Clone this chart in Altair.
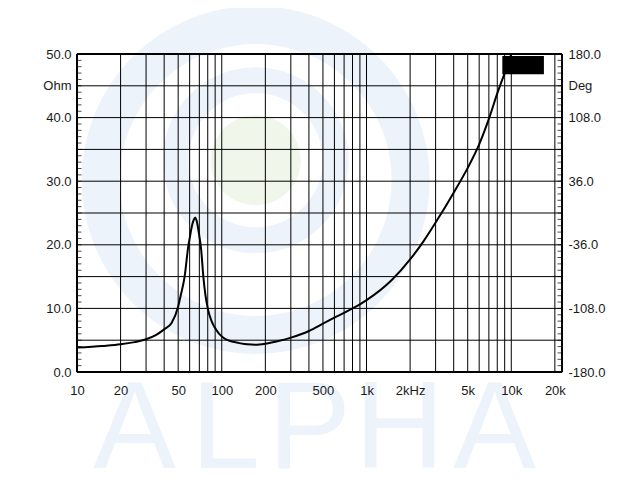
import altair as alt
import pandas as pd

# ---- impedance curve ----
freq = [10, 15, 20, 25, 30, 35, 40, 45, 50, 52, 55.4, 58.9, 60, 62, 64, 65.6, 67, 70, 72, 74.6,
        77, 80, 85, 90, 95, 100, 110, 120, 135, 150, 170, 200, 250, 300, 400, 500, 600, 700,
        800, 900, 1000, 1500, 2000, 2500, 3000, 4000, 5000, 6000, 7000, 8000, 9000, 10000]
ohm = [3.85, 4.1, 4.35, 4.7, 5.15, 5.8, 6.7, 7.7, 10.3, 12.0, 15.0, 20.0, 21.0, 22.8, 23.9, 24.3,
       23.8, 21.4, 19.3, 15.0, 12.2, 10.0, 8.0, 6.9, 6.1, 5.6, 5.0, 4.75, 4.5, 4.35, 4.3, 4.45,
       4.9, 5.4, 6.45, 7.6, 8.55, 9.3, 10.0, 10.65, 11.3, 14.5, 17.7, 20.7, 23.5, 28.2, 32.1,
       35.8, 39.8, 43.8, 47.0, 50.0]

# ---- axes ----
x_domain = [10, 22400]
y_domain = [0, 50]
x_tick_values = [10, 20, 50, 100, 200, 500, 1000, 2000, 5000, 10000, 20000]
x_tick_labels = ["10", "20", "50", "100", "200", "500", "1k", "2kHz", "5k", "10k", "20k"]
x_grid = [20, 30, 40, 50, 60, 70, 80, 90, 100, 200, 300, 400, 500, 600, 700, 800, 900,
          1000, 2000, 3000, 4000, 5000, 6000, 7000, 8000, 9000, 10000, 20000]
y_grid = [5, 10, 15, 20, 25, 30, 35, 40, 45]
y_label_values = [0, 10, 20, 30, 40, 45, 50]
y_minor = list(range(0, 51))
border_x = [10, 22400]
border_y = [0, 50]

# legend-like black box (top right)
box_f1 = [8670]
box_f2 = [16800]
box_o1 = [46.8]
box_o2 = [49.7]

# watermark
wm_letters = ["A", "L", "P", "H", "A"]
wm_freq = [25, 106, 405, 1690, 7670]
wm_ohm = [-15.1, -15.1, -15.1, -15.1, -15.1]
logo_freq = [171.4]
logo_outer_ohm = [30.2]
logo_inner_ohm = [33.3]

xs = alt.Scale(type="log", domain=x_domain, nice=False)
ys = alt.Scale(domain=y_domain, nice=False, zero=False)

curve_df = pd.DataFrame({"f": freq, "ohm": ohm})
wm_df = pd.DataFrame({"t": wm_letters, "f": wm_freq, "ohm": wm_ohm})
logo_outer_df = pd.DataFrame({"f": logo_freq, "ohm": logo_outer_ohm})
logo_inner_df = pd.DataFrame({"f": logo_freq, "ohm": logo_inner_ohm})
xgrid_df = pd.DataFrame({"f": x_grid})
ygrid_df = pd.DataFrame({"ohm": y_grid})
bx_df = pd.DataFrame({"f": border_x})
by_df = pd.DataFrame({"ohm": border_y})
minor_df = pd.DataFrame({"ohm": y_minor})
box_df = pd.DataFrame({"f1": box_f1, "f2": box_f2, "o1": box_o1, "o2": box_o2})

# label expression for x axis
xexpr = "''"
for v, lab in reversed(list(zip(x_tick_values, x_tick_labels))):
    xexpr = f"datum.value == {v} ? '{lab}' : ({xexpr})"

font = "Liberation Sans"
lab_color = "#1a1a1a"

wm_blue = "#edf3fa"
wm_green = "#f0f6ea"

xaxis = alt.Axis(values=x_tick_values, labelExpr=xexpr, title=None, grid=False, ticks=False,
                 domain=False, labelPadding=12, labelFlush=False, labelOverlap=False,
                 labelFont=font, labelFontSize=13, labelColor=lab_color, zindex=1)


def X(field="f:Q"):
    return alt.X(field, scale=xs, axis=xaxis)


def Y(field="ohm:Q"):
    return alt.Y(field, scale=ys, axis=None)


logo_outer = alt.Chart(logo_outer_df).mark_point(
    shape="circle", filled=False, color=wm_blue, strokeWidth=38, opacity=1, size=310 * 310
).encode(x=X(), y=Y())

logo_inner = alt.Chart(logo_inner_df).mark_point(
    shape="circle", filled=False, color=wm_blue, strokeWidth=26, opacity=1, size=160 * 160
).encode(x=X(), y=Y())

logo_disk = alt.Chart(logo_inner_df).mark_point(
    shape="circle", filled=True, color=wm_green, opacity=1, size=90 * 90
).encode(x=X(), y=Y())

letters = alt.Chart(wm_df).mark_text(
    font=font, fontSize=124, align="center", baseline="alphabetic", color=wm_blue
).encode(x=X(), y=Y(), text="t:N")

vgrid = alt.Chart(xgrid_df).mark_rule(color="black", strokeWidth=1).encode(x=X())
hgrid = alt.Chart(ygrid_df).mark_rule(color="black", strokeWidth=1).encode(y=Y())

curve = alt.Chart(curve_df).mark_line(
    color="black", strokeWidth=2, interpolate="monotone"
).encode(
    x=X(),
    y=alt.Y(
        "ohm:Q", scale=ys,
        axis=alt.Axis(values=y_label_values, orient="left", title=None, grid=False, ticks=False,
                      domain=False, labelPadding=6, labelOverlap=False,
                      labelExpr="datum.value == 45 ? 'Ohm' : format(datum.value, '.1f')",
                      labelFont=font, labelFontSize=13, labelColor=lab_color, zindex=1),
    ),
)

bvert = alt.Chart(bx_df).mark_rule(color="black", strokeWidth=2).encode(x=X())
bhorz = alt.Chart(by_df).mark_rule(color="black", strokeWidth=2).encode(y=Y())

ticks_left = alt.Chart(minor_df).mark_tick(
    orient="horizontal", size=5, thickness=1, color="black", xOffset=2
).encode(x=alt.datum(10, scale=xs, axis=xaxis), y=Y())

deg_expr = ("datum.value == 45 ? 'Deg' : ((datum.value * 7.2 - 180) < 0 ? '-' : '') + "
            "format(abs(datum.value * 7.2 - 180), '.1f')")
ticks_right = alt.Chart(minor_df).mark_tick(
    orient="horizontal", size=5, thickness=1, color="black", xOffset=-2
).encode(
    x=alt.datum(22400, scale=xs, axis=xaxis),
    y=alt.Y("ohm:Q", scale=ys,
            axis=alt.Axis(values=y_label_values, orient="right", title=None, grid=False,
                          ticks=False, domain=False, labelPadding=6, labelOverlap=False,
                          labelExpr=deg_expr, labelFont=font, labelFontSize=13,
                          labelColor=lab_color, zindex=1)),
)

box = alt.Chart(box_df).mark_rect(color="black").encode(
    x=X("f1:Q"), x2="f2:Q", y=Y("o1:Q"), y2="o2:Q",
)

chart = alt.layer(
    logo_outer, logo_inner, logo_disk, letters, vgrid, hgrid, curve, bvert, bhorz,
    ticks_left, ticks_right, box
).resolve_axis(y="independent").properties(
    width=485, height=318,
    autosize=alt.AutoSizeParams(type="none"),
    padding={"left": 69, "top": 46, "right": 70, "bottom": 100},
).configure_view(stroke=None).configure(background="white")

chart.save("out.html", embed_options={"renderer": "svg", "actions": False})
